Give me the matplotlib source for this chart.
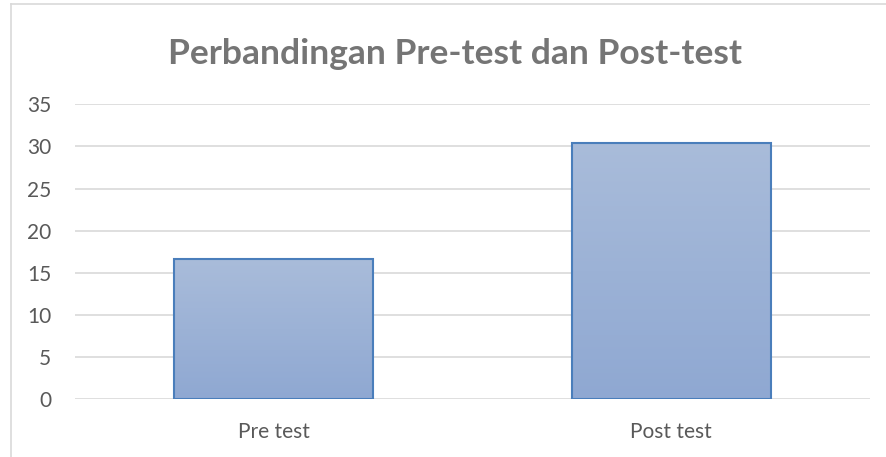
import matplotlib.pyplot as plt
import numpy as np
from matplotlib.lines import Line2D

categories = ['Pre test', 'Post test']
values = [16.6, 30.4]
yticks = [0, 5, 10, 15, 20, 25, 30, 35]

plt.rcParams['font.family'] = ['Lato', 'DejaVu Sans']

W, H = 887, 457
fig = plt.figure(figsize=(W / 100, H / 100), dpi=100)
ax = fig.add_axes([75 / W, 1 - 399.3 / H, 795 / W, 295 / H])

x = np.arange(len(categories))
bars = ax.bar(x, values, width=0.5, color='none', edgecolor='#4A7EBB', linewidth=1.5, zorder=3)

# vertical gradient fill inside each bar
grad = np.linspace(0, 1, 256).reshape(-1, 1)
top = np.array([169, 188, 218]) / 255
bot = np.array([143, 168, 210]) / 255
img = bot + (top - bot) * grad[:, :, None]
for b in bars:
    x0, w, h = b.get_x(), b.get_width(), b.get_height()
    im = ax.imshow(img, extent=[x0, x0 + w, 0, h], origin='lower', aspect='auto', zorder=2)
    im.set_clip_path(b)

ax.set_xlim(-0.5, 1.5)
ax.set_ylim(0, 35)
ax.set_yticks(yticks)
ax.set_xticks(x)
ax.set_xticklabels(categories)
ax.yaxis.grid(True, color='#D9D9D9', linewidth=1.2, zorder=0)
for s in ax.spines.values():
    s.set_visible(False)
ax.tick_params(length=0, labelsize=15, labelcolor='#595959')
ax.tick_params(axis='y', pad=17)
ax.tick_params(axis='x', pad=16)

fig.text(455 / W, 1 - 63.5 / H, 'Perbandingan Pre-test dan Post-test', ha='center', va='baseline',
         fontsize=25.5, fontweight='bold', color='#757575')

# chart frame (left and top only visible)
fig.add_artist(Line2D([11 / W, 11 / W], [0, 1 - 4 / H], color='#D9D9D9', linewidth=1.2))
fig.add_artist(Line2D([11 / W, 1], [1 - 4 / H, 1 - 4 / H], color='#D9D9D9', linewidth=1.2))

fig.savefig('out.png', dpi=100)
